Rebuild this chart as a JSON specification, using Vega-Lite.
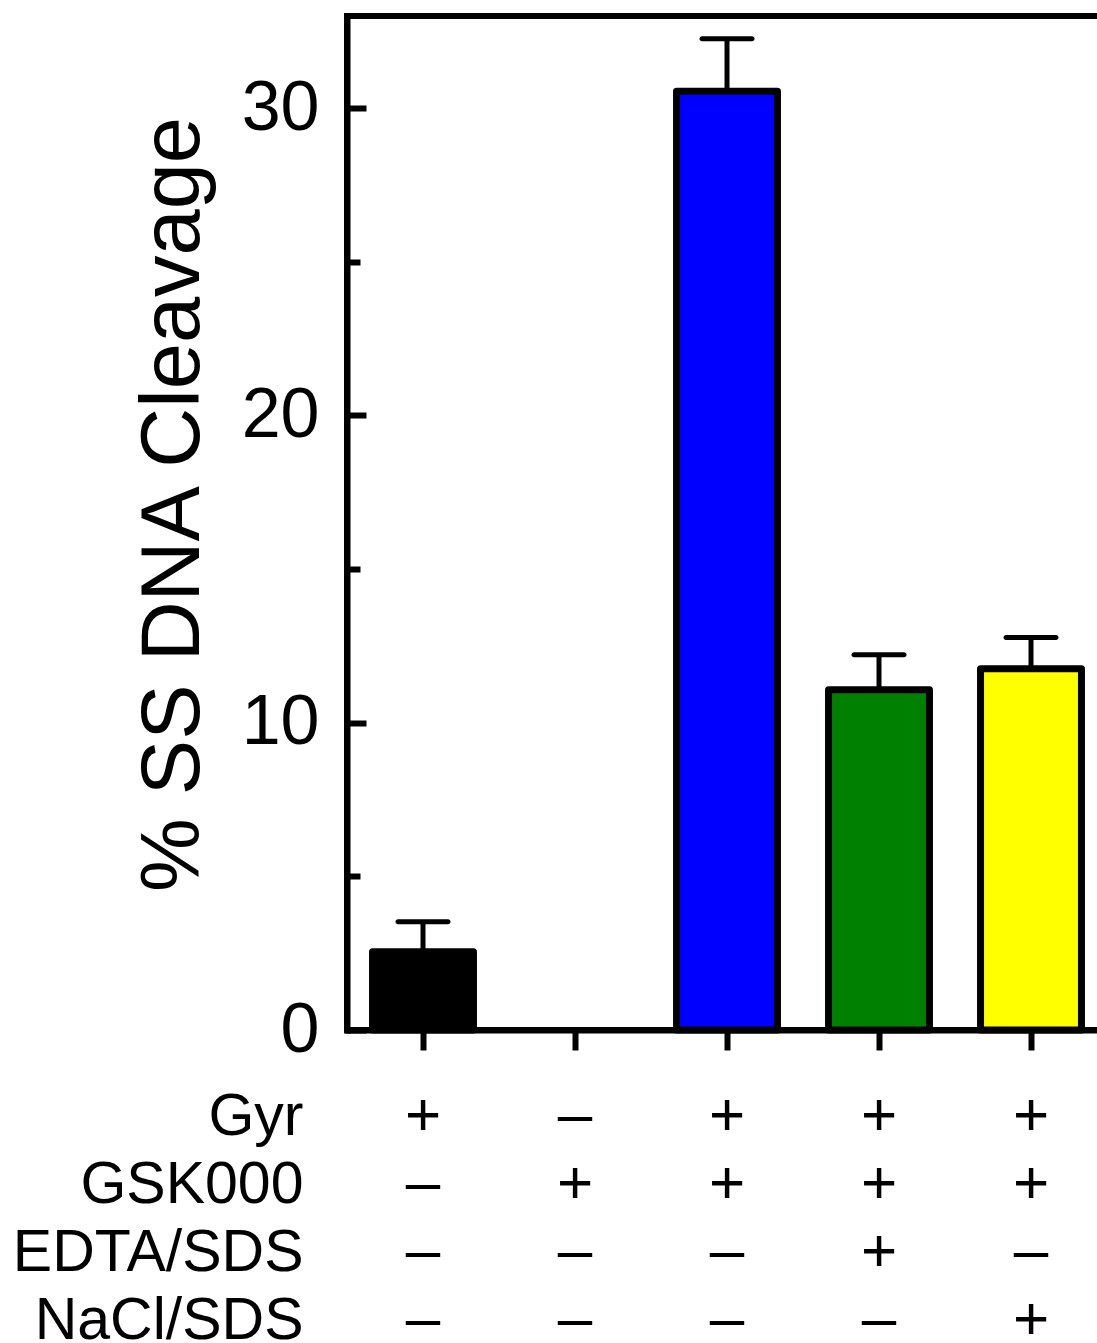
{
  "$schema": "https://vega.github.io/schema/vega-lite/v6.json",
  "padding": {"left": 12, "top": 13, "right": 0, "bottom": 0},
  "autosize": {"type": "pad"},
  "config": {"font": "Liberation Sans", "view": {"stroke": null}},
  "datasets": {
    "bars": [
      {"condition": "Gyr", "mean": 2.55, "upper": 3.52},
      {"condition": "Gyr + GSK000", "mean": 30.55, "upper": 32.26},
      {"condition": "Gyr + GSK000 + EDTA/SDS", "mean": 11.07, "upper": 12.21},
      {"condition": "Gyr + GSK000 + NaCl/SDS", "mean": 11.76, "upper": 12.77}
    ],
    "table": [
      {"condition": "Gyr", "factor": "Gyr", "sign": "+"},
      {"condition": "GSK000", "factor": "Gyr", "sign": "–"},
      {"condition": "Gyr + GSK000", "factor": "Gyr", "sign": "+"},
      {"condition": "Gyr + GSK000 + EDTA/SDS", "factor": "Gyr", "sign": "+"},
      {"condition": "Gyr + GSK000 + NaCl/SDS", "factor": "Gyr", "sign": "+"},
      {"condition": "Gyr", "factor": "GSK000", "sign": "–"},
      {"condition": "GSK000", "factor": "GSK000", "sign": "+"},
      {"condition": "Gyr + GSK000", "factor": "GSK000", "sign": "+"},
      {"condition": "Gyr + GSK000 + EDTA/SDS", "factor": "GSK000", "sign": "+"},
      {"condition": "Gyr + GSK000 + NaCl/SDS", "factor": "GSK000", "sign": "+"},
      {"condition": "Gyr", "factor": "EDTA/SDS", "sign": "–"},
      {"condition": "GSK000", "factor": "EDTA/SDS", "sign": "–"},
      {"condition": "Gyr + GSK000", "factor": "EDTA/SDS", "sign": "–"},
      {"condition": "Gyr + GSK000 + EDTA/SDS", "factor": "EDTA/SDS", "sign": "+"},
      {"condition": "Gyr + GSK000 + NaCl/SDS", "factor": "EDTA/SDS", "sign": "–"},
      {"condition": "Gyr", "factor": "NaCl/SDS", "sign": "–"},
      {"condition": "GSK000", "factor": "NaCl/SDS", "sign": "–"},
      {"condition": "Gyr + GSK000", "factor": "NaCl/SDS", "sign": "–"},
      {"condition": "Gyr + GSK000 + EDTA/SDS", "factor": "NaCl/SDS", "sign": "–"},
      {"condition": "Gyr + GSK000 + NaCl/SDS", "factor": "NaCl/SDS", "sign": "+"}
    ]
  },
  "spacing": 14,
  "vconcat": [
    {
      "width": 760,
      "height": 1014,
      "view": {"stroke": "black", "strokeWidth": 6},
      "data": {"name": "bars"},
      "encoding": {
        "x": {
          "field": "condition",
          "type": "nominal",
          "sort": null,
          "scale": {"type": "band", "domain": ["Gyr", "GSK000", "Gyr + GSK000", "Gyr + GSK000 + EDTA/SDS", "Gyr + GSK000 + NaCl/SDS"], "paddingInner": 0.336, "paddingOuter": 0.168},
          "axis": {"title": null, "labels": false, "domainColor": "black", "domainWidth": 6, "domainCap": "square", "tickColor": "black", "tickWidth": 6, "tickSize": 20}
        }
      },
      "layer": [
        {
          "mark": {"type": "rule", "strokeWidth": 5, "color": "black"},
          "encoding": {
            "y": {"field": "mean", "type": "quantitative", "title": "% SS DNA Cleavage"},
            "y2": {"field": "upper"}
          }
        },
        {
          "mark": {"type": "tick", "size": 55, "thickness": 5, "color": "black", "cornerRadius": 2.5, "opacity": 1},
          "encoding": {
            "y": {"field": "upper", "type": "quantitative", "title": "% SS DNA Cleavage"}
          }
        },
        {
          "mark": {"type": "bar", "stroke": "black", "strokeWidth": 7, "strokeJoin": "round"},
          "encoding": {
            "y": {
              "field": "mean",
              "type": "quantitative",
              "title": "% SS DNA Cleavage",
              "scale": {"domain": [0, 33], "nice": false, "zero": true},
              "axis": {
                "values": [0, 5, 10, 15, 20, 25, 30],
                "labelExpr": "datum.value % 10 === 0 ? datum.label : ''",
                "labelFontSize": 70,
                "labelColor": "black",
                "labelFont": "Liberation Sans",
                "labelPadding": 47,
                "tickSize": {"condition": {"test": "datum.value % 10 === 0", "value": -19}, "value": -13},
                "tickWidth": 6,
                "tickColor": "black",
                "domainWidth": 6,
                "domainColor": "black",
                "domainCap": "square",
                "grid": false,
                "titleFontSize": 83,
                "titleFontWeight": "normal",
                "titleColor": "black",
                "titleFont": "Liberation Sans",
                "titleAngle": -90,
                "titleAlign": "center",
                "titleBaseline": "alphabetic",
                "titleX": -149,
                "titleY": 488
              }
            },
            "color": {
              "field": "condition",
              "type": "nominal",
              "scale": {"domain": ["Gyr", "Gyr + GSK000", "Gyr + GSK000 + EDTA/SDS", "Gyr + GSK000 + NaCl/SDS"], "range": ["#000000", "#0000ff", "#008000", "#ffff00"]},
              "legend": null
            }
          }
        }
      ]
    },
    {
      "width": 760,
      "height": 272,
      "data": {"name": "table"},
      "mark": {"type": "text", "fontSize": 62, "font": "Liberation Sans", "color": "black"},
      "encoding": {
        "x": {
          "field": "condition",
          "type": "nominal",
          "sort": null,
          "scale": {"type": "band", "domain": ["Gyr", "GSK000", "Gyr + GSK000", "Gyr + GSK000 + EDTA/SDS", "Gyr + GSK000 + NaCl/SDS"], "paddingInner": 0.336, "paddingOuter": 0.168},
          "axis": null
        },
        "y": {
          "field": "factor",
          "type": "nominal",
          "sort": ["Gyr", "GSK000", "EDTA/SDS", "NaCl/SDS"],
          "axis": {"title": null, "domain": false, "ticks": false, "labelFontSize": 59, "labelFont": "Liberation Sans", "labelColor": "black", "labelPadding": 44, "labelLimit": 0}
        },
        "text": {"field": "sign"}
      }
    }
  ]
}
